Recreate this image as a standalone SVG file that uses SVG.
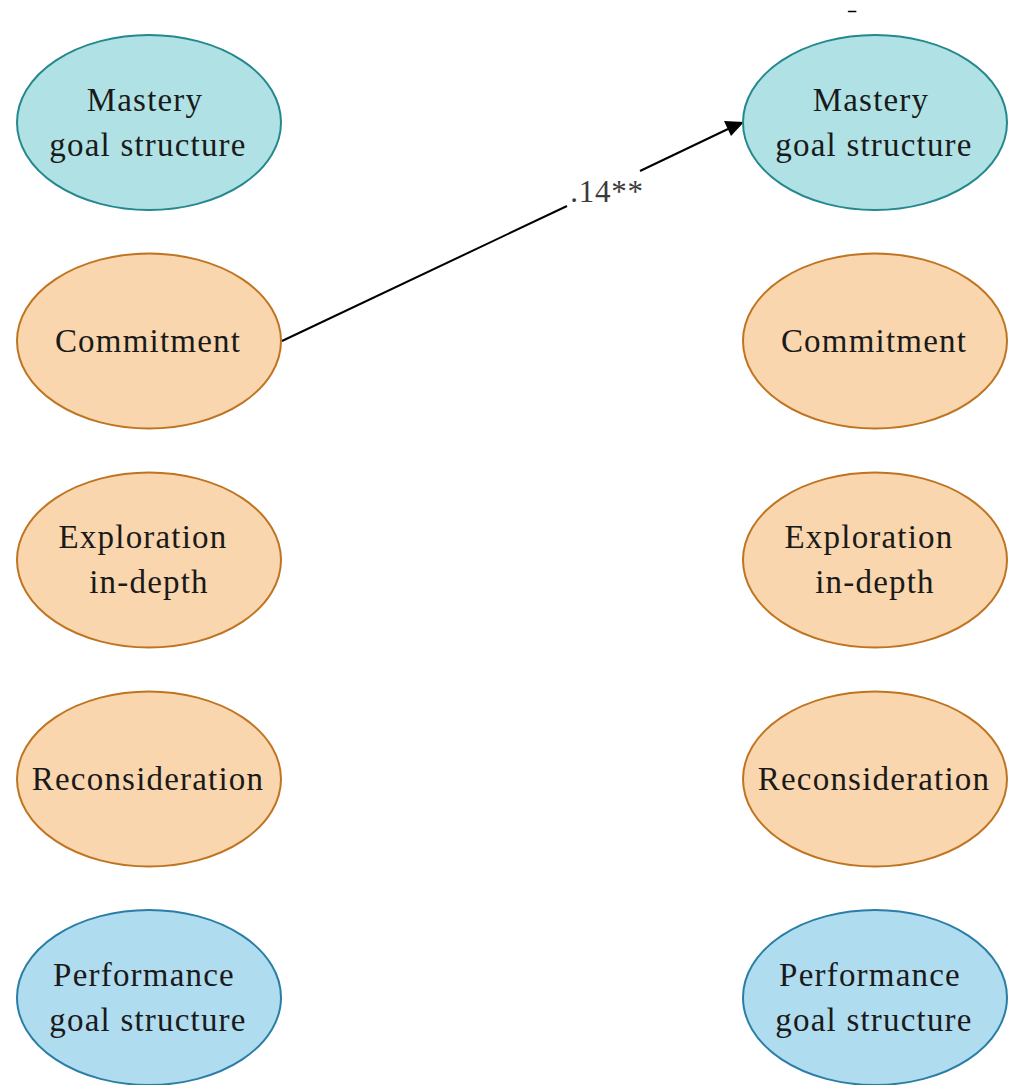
<svg xmlns="http://www.w3.org/2000/svg" width="1011" height="1085" viewBox="0 0 1011 1085">
<style>
.mastery{fill:#b0e2e5;stroke:#24888e;stroke-width:2}
.ident{fill:#f9d6ad;stroke:#bf7421;stroke-width:2}
.perf{fill:#b0dcef;stroke:#2a7ea6;stroke-width:2}
.t{font-family:"Liberation Serif","DejaVu Serif",serif;font-size:33px;letter-spacing:1.2px;fill:#1a1a1a;text-anchor:middle}
.lbl{font-family:"Liberation Serif","DejaVu Serif",serif;font-size:31px;letter-spacing:0.8px;fill:#3a3a3a;text-anchor:middle}
.edge{stroke:#000;stroke-width:2;fill:none}
</style>
<text transform="translate(852,16) scale(2,1)" style="font-family:'Liberation Serif',serif;font-size:16px;font-weight:bold;text-anchor:middle;fill:#000">-</text>
<g id="connectors">
<path class="edge" d="M282,341 L567,206"/>
<path class="edge" d="M640,171 L728,129"/>
<path d="M744,122 L724,121 L731,136 Z" fill="#000"/>
<text class="lbl" x="607" y="202">.14**</text>
</g>
<g id="L_mastery"><ellipse class="mastery" cx="149" cy="122.5" rx="132" ry="87.5"/><text class="t" x="145" y="111">Mastery</text><text class="t" x="148" y="156">goal structure</text></g>
<g id="L_commitment"><ellipse class="ident" cx="149" cy="341" rx="132" ry="87.5"/><text class="t" x="148" y="352">Commitment</text></g>
<g id="L_exploration"><ellipse class="ident" cx="149" cy="560" rx="132" ry="87.5"/><text class="t" x="143" y="548">Exploration</text><text class="t" x="149" y="593">in-depth</text></g>
<g id="L_reconsideration"><ellipse class="ident" cx="149" cy="779" rx="132" ry="87.5"/><text class="t" x="148" y="790">Reconsideration</text></g>
<g id="L_performance"><ellipse class="perf" cx="149" cy="997.5" rx="132" ry="87.5"/><text class="t" x="144" y="986">Performance</text><text class="t" x="148" y="1031">goal structure</text></g>
<g id="R_mastery"><ellipse class="mastery" cx="875" cy="122.5" rx="132" ry="87.5"/><text class="t" x="871" y="111">Mastery</text><text class="t" x="874" y="156">goal structure</text></g>
<g id="R_commitment"><ellipse class="ident" cx="875" cy="341" rx="132" ry="87.5"/><text class="t" x="874" y="352">Commitment</text></g>
<g id="R_exploration"><ellipse class="ident" cx="875" cy="560" rx="132" ry="87.5"/><text class="t" x="869" y="548">Exploration</text><text class="t" x="875" y="593">in-depth</text></g>
<g id="R_reconsideration"><ellipse class="ident" cx="875" cy="779" rx="132" ry="87.5"/><text class="t" x="874" y="790">Reconsideration</text></g>
<g id="R_performance"><ellipse class="perf" cx="875" cy="997.5" rx="132" ry="87.5"/><text class="t" x="870" y="986">Performance</text><text class="t" x="874" y="1031">goal structure</text></g>
</svg>
